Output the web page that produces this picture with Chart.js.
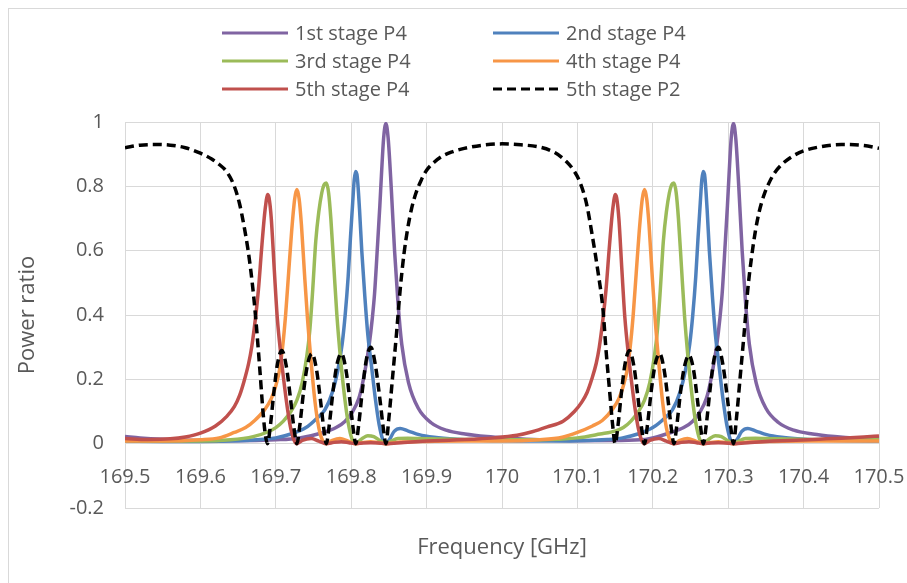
<!DOCTYPE html>
<html>
<head>
<meta charset="utf-8">
<title>Power ratio</title>
<script src="https://cdn.jsdelivr.net/npm/chart.js"></script>
<style>
  body { margin: 0; background: #fff; }
  #wrap { width: 907px; height: 583px; }
</style>
</head>
<body>
<div id="wrap"><canvas id="grafico" width="907" height="583"></canvas></div>
<script>
// frequency [GHz] / power ratio pairs, one pair of arrays per output port
const stage1Freq = [169.50, 169.52, 169.55, 169.60, 169.65, 169.70, 169.73, 169.762, 169.78, 169.792, 169.802, 169.810, 169.815, 169.820, 169.824, 169.828, 169.831, 169.835, 169.838, 169.840, 169.843, 169.846, 169.849, 169.853, 169.8575, 169.862, 169.867, 169.876, 169.889, 169.906, 169.926, 169.951, 169.98, 170.01, 170.05, 170.10, 170.15, 170.19, 170.223, 170.241, 170.253, 170.263, 170.271, 170.276, 170.281, 170.285, 170.289, 170.292, 170.296, 170.299, 170.301, 170.304, 170.307, 170.310, 170.314, 170.3185, 170.323, 170.328, 170.337, 170.350, 170.367, 170.387, 170.412, 170.441, 170.47, 170.50];
const stage1P4 = [0.022, 0.018, 0.014, 0.010, 0.009, 0.012, 0.017, 0.034, 0.05, 0.07, 0.10, 0.14, 0.187, 0.25, 0.31, 0.39, 0.467, 0.62, 0.74, 0.83, 0.95, 0.995, 0.95, 0.80, 0.60, 0.44, 0.31, 0.19, 0.11, 0.065, 0.042, 0.03, 0.022, 0.017, 0.012, 0.009, 0.01, 0.013, 0.034, 0.05, 0.07, 0.10, 0.14, 0.187, 0.25, 0.31, 0.39, 0.467, 0.62, 0.74, 0.83, 0.95, 0.995, 0.95, 0.80, 0.60, 0.44, 0.31, 0.19, 0.11, 0.065, 0.042, 0.03, 0.022, 0.017, 0.015];

const stage2Freq = [169.50, 169.55, 169.60, 169.65, 169.68, 169.70, 169.72, 169.74, 169.755, 169.765, 169.775, 169.782, 169.788, 169.792, 169.796, 169.799, 169.802, 169.804, 169.806, 169.808, 169.811, 169.814, 169.818, 169.822, 169.827, 169.832, 169.837, 169.842, 169.846, 169.851, 169.857, 169.865, 169.875, 169.89, 169.91, 169.94, 169.97, 170.00, 170.05, 170.10, 170.14, 170.16, 170.18, 170.20, 170.216, 170.226, 170.236, 170.243, 170.249, 170.253, 170.257, 170.260, 170.263, 170.265, 170.267, 170.269, 170.272, 170.275, 170.279, 170.283, 170.288, 170.293, 170.298, 170.303, 170.307, 170.312, 170.318, 170.326, 170.336, 170.351, 170.371, 170.401, 170.431, 170.46, 170.50];
const stage2P4 = [0.008, 0.007, 0.007, 0.009, 0.013, 0.018, 0.03, 0.05, 0.08, 0.105, 0.16, 0.225, 0.31, 0.40, 0.52, 0.64, 0.75, 0.82, 0.846, 0.83, 0.73, 0.60, 0.46, 0.34, 0.24, 0.14, 0.06, 0.012, 0.0, 0.014, 0.038, 0.047, 0.04, 0.028, 0.02, 0.014, 0.011, 0.009, 0.008, 0.009, 0.013, 0.018, 0.03, 0.05, 0.08, 0.105, 0.16, 0.225, 0.31, 0.40, 0.52, 0.64, 0.75, 0.82, 0.846, 0.83, 0.73, 0.60, 0.46, 0.34, 0.24, 0.14, 0.06, 0.012, 0.0, 0.014, 0.038, 0.047, 0.04, 0.028, 0.02, 0.014, 0.011, 0.009, 0.008];

const stage3Freq = [169.50, 169.55, 169.60, 169.64, 169.67, 169.69, 169.70, 169.71, 169.72, 169.728, 169.735, 169.741, 169.745, 169.749, 169.753, 169.757, 169.761, 169.764, 169.767, 169.770, 169.773, 169.777, 169.781, 169.786, 169.791, 169.796, 169.801, 169.806, 169.813, 169.822, 169.830, 169.838, 169.846, 169.853, 169.862, 169.875, 169.90, 169.95, 170.00, 170.05, 170.10, 170.13, 170.151, 170.161, 170.171, 170.181, 170.189, 170.196, 170.202, 170.206, 170.210, 170.214, 170.218, 170.222, 170.225, 170.228, 170.231, 170.234, 170.238, 170.242, 170.247, 170.252, 170.257, 170.262, 170.267, 170.274, 170.283, 170.291, 170.299, 170.307, 170.314, 170.323, 170.336, 170.361, 170.41, 170.46, 170.50];
const stage3P4 = [0.01, 0.008, 0.008, 0.012, 0.022, 0.037, 0.05, 0.07, 0.10, 0.135, 0.19, 0.27, 0.35, 0.48, 0.63, 0.72, 0.78, 0.805, 0.81, 0.78, 0.70, 0.55, 0.40, 0.26, 0.15, 0.065, 0.015, 0.0, 0.013, 0.025, 0.022, 0.01, 0.0, 0.008, 0.016, 0.017, 0.015, 0.013, 0.012, 0.012, 0.018, 0.03, 0.04, 0.05, 0.07, 0.10, 0.135, 0.19, 0.27, 0.35, 0.48, 0.63, 0.72, 0.78, 0.805, 0.81, 0.78, 0.70, 0.55, 0.40, 0.26, 0.15, 0.065, 0.015, 0.0, 0.013, 0.025, 0.022, 0.01, 0.0, 0.008, 0.016, 0.017, 0.015, 0.013, 0.012, 0.012];

const stage4Freq = [169.50, 169.55, 169.60, 169.625, 169.645, 169.66, 169.672, 169.685, 169.694, 169.700, 169.705, 169.709, 169.713, 169.717, 169.721, 169.725, 169.728, 169.731, 169.734, 169.738, 169.742, 169.747, 169.752, 169.757, 169.762, 169.767, 169.775, 169.785, 169.796, 169.806, 169.816, 169.826, 169.836, 169.846, 169.86, 169.90, 169.95, 170.00, 170.05, 170.08, 170.10, 170.12, 170.133, 170.146, 170.155, 170.161, 170.166, 170.170, 170.174, 170.178, 170.182, 170.186, 170.189, 170.192, 170.195, 170.199, 170.203, 170.208, 170.213, 170.218, 170.223, 170.228, 170.236, 170.246, 170.257, 170.267, 170.277, 170.287, 170.297, 170.307, 170.321, 170.361, 170.41, 170.46, 170.50];
const stage4P4 = [0.008, 0.008, 0.012, 0.018, 0.035, 0.05, 0.072, 0.105, 0.14, 0.18, 0.23, 0.30, 0.40, 0.53, 0.66, 0.76, 0.79, 0.76, 0.68, 0.53, 0.39, 0.25, 0.13, 0.05, 0.01, 0.0, 0.01, 0.016, 0.008, 0.0, 0.004, 0.006, 0.003, 0.0, 0.004, 0.007, 0.008, 0.008, 0.012, 0.02, 0.035, 0.055, 0.072, 0.105, 0.14, 0.18, 0.23, 0.30, 0.40, 0.53, 0.66, 0.76, 0.79, 0.76, 0.68, 0.53, 0.39, 0.25, 0.13, 0.05, 0.01, 0.0, 0.01, 0.016, 0.008, 0.0, 0.004, 0.006, 0.003, 0.0, 0.004, 0.007, 0.008, 0.008, 0.008];

const stage5Freq = [169.50, 169.53, 169.56, 169.58, 169.60, 169.62, 169.635, 169.645, 169.652, 169.658, 169.664, 169.668, 169.673, 169.677, 169.681, 169.685, 169.687, 169.689, 169.691, 169.694, 169.698, 169.702, 169.707, 169.712, 169.716, 169.720, 169.724, 169.728, 169.735, 169.747, 169.757, 169.767, 169.777, 169.787, 169.797, 169.806, 169.816, 169.826, 169.836, 169.846, 169.87, 169.90, 169.93, 169.96, 169.99, 170.02, 170.04, 170.06, 170.081, 170.096, 170.106, 170.113, 170.119, 170.125, 170.129, 170.134, 170.138, 170.142, 170.146, 170.148, 170.150, 170.152, 170.155, 170.159, 170.163, 170.168, 170.173, 170.177, 170.181, 170.185, 170.189, 170.196, 170.208, 170.218, 170.228, 170.238, 170.248, 170.258, 170.267, 170.277, 170.287, 170.297, 170.307, 170.33, 170.36, 170.39, 170.42, 170.45, 170.48, 170.50];
const stage5P4 = [0.016, 0.013, 0.015, 0.021, 0.033, 0.055, 0.085, 0.115, 0.15, 0.195, 0.25, 0.30, 0.39, 0.48, 0.60, 0.71, 0.75, 0.775, 0.765, 0.70, 0.54, 0.39, 0.27, 0.17, 0.10, 0.045, 0.012, 0.0, 0.01, 0.016, 0.008, 0.0, 0.004, 0.006, 0.003, 0.0, 0.002, 0.003, 0.002, 0.0, 0.004, 0.008, 0.011, 0.014, 0.018, 0.026, 0.037, 0.052, 0.07, 0.10, 0.13, 0.16, 0.2, 0.25, 0.30, 0.39, 0.48, 0.60, 0.71, 0.75, 0.775, 0.765, 0.70, 0.54, 0.39, 0.27, 0.17, 0.10, 0.045, 0.012, 0.0, 0.01, 0.016, 0.008, 0.0, 0.004, 0.006, 0.003, 0.0, 0.002, 0.003, 0.002, 0.0, 0.004, 0.008, 0.011, 0.014, 0.017, 0.021, 0.024];

const stage5P2Freq = [169.50, 169.52, 169.54, 169.56, 169.58, 169.60, 169.615, 169.625, 169.635, 169.645, 169.652, 169.658, 169.663, 169.667, 169.671, 169.675, 169.679, 169.683, 169.686, 169.689, 169.693, 169.697, 169.702, 169.708, 169.714, 169.719, 169.724, 169.728, 169.732, 169.737, 169.742, 169.748, 169.754, 169.759, 169.764, 169.767, 169.771, 169.776, 169.781, 169.787, 169.793, 169.798, 169.803, 169.806, 169.810, 169.815, 169.820, 169.826, 169.832, 169.838, 169.843, 169.846, 169.850, 169.855, 169.860, 169.865, 169.870, 169.875, 169.880, 169.886, 169.893, 169.90, 169.91, 169.92, 169.935, 169.95, 169.975, 170.00, 170.025, 170.05, 170.07, 170.085, 170.095, 170.103, 170.112, 170.120, 170.127, 170.134, 170.138, 170.143, 170.147, 170.150, 170.154, 170.158, 170.163, 170.169, 170.175, 170.180, 170.185, 170.189, 170.193, 170.198, 170.203, 170.209, 170.215, 170.220, 170.225, 170.228, 170.232, 170.237, 170.242, 170.248, 170.254, 170.259, 170.264, 170.267, 170.271, 170.276, 170.281, 170.287, 170.293, 170.299, 170.304, 170.307, 170.311, 170.316, 170.321, 170.326, 170.331, 170.336, 170.341, 170.347, 170.354, 170.361, 170.371, 170.385, 170.40, 170.42, 170.45, 170.48, 170.50];
const stage5P2 = [0.92, 0.928, 0.93, 0.928, 0.92, 0.903, 0.885, 0.868, 0.845, 0.80, 0.745, 0.675, 0.605, 0.535, 0.45, 0.345, 0.225, 0.10, 0.03, 0.0, 0.06, 0.15, 0.245, 0.29, 0.24, 0.15, 0.05, 0.0, 0.06, 0.165, 0.245, 0.28, 0.23, 0.14, 0.04, 0.0, 0.06, 0.165, 0.245, 0.28, 0.23, 0.14, 0.04, 0.0, 0.06, 0.17, 0.26, 0.30, 0.245, 0.14, 0.04, 0.0, 0.08, 0.21, 0.34, 0.48, 0.59, 0.67, 0.73, 0.78, 0.82, 0.85, 0.875, 0.893, 0.908, 0.918, 0.928, 0.932, 0.929, 0.922, 0.905, 0.878, 0.85, 0.815, 0.747, 0.643, 0.539, 0.415, 0.29, 0.156, 0.052, 0.0, 0.06, 0.15, 0.245, 0.29, 0.24, 0.15, 0.05, 0.0, 0.06, 0.165, 0.245, 0.28, 0.23, 0.14, 0.04, 0.0, 0.06, 0.165, 0.24, 0.275, 0.23, 0.14, 0.04, 0.0, 0.06, 0.17, 0.26, 0.30, 0.245, 0.14, 0.04, 0.0, 0.08, 0.21, 0.34, 0.48, 0.58, 0.66, 0.72, 0.77, 0.81, 0.84, 0.868, 0.893, 0.91, 0.922, 0.93, 0.927, 0.918];

const seriesNames = ["1st stage P4", "2nd stage P4", "3rd stage P4", "4th stage P4", "5th stage P4", "5th stage P2"];
const xTickLabels = ["169.5", "169.6", "169.7", "169.8", "169.9", "170", "170.1", "170.2", "170.3", "170.4", "170.5"];
const yTickLabels = ["-0.2", "0", "0.2", "0.4", "0.6", "0.8", "1"];

const textColor = "#595959";
const gridColor = "#d9d9d9";
const fontName = "'Open Sans', 'Liberation Sans', sans-serif";

function pontos(xs, ys) {
  return xs.map((x, i) => ({ x: x, y: ys[i] }));
}

function serie(label, xs, ys, color, order, dash) {
  return {
    label: label,
    data: pontos(xs, ys),
    borderColor: color,
    backgroundColor: color,
    borderWidth: 3.5,
    borderDash: dash || [],
    borderJoinStyle: "round",
    pointRadius: 0,
    fill: false,
    cubicInterpolationMode: "monotone",
    order: order,
  };
}

let datasets = [
  serie(seriesNames[0], stage1Freq, stage1P4, "#8064A2", 5),
  serie(seriesNames[1], stage2Freq, stage2P4, "#4F81BD", 4),
  serie(seriesNames[2], stage3Freq, stage3P4, "#9BBB59", 3),
  serie(seriesNames[3], stage4Freq, stage4P4, "#F79646", 2),
  serie(seriesNames[4], stage5Freq, stage5P4, "#C0504D", 1),
  serie(seriesNames[5], stage5P2Freq, stage5P2, "#000000", 0, [9, 5]),
];

// legend in two columns, three rows, plus the outer chart frame
const legendaPlugin = {
  id: "legenda2col",
  beforeDraw(chart) {
    let ctx = chart.ctx;
    ctx.save();
    ctx.strokeStyle = gridColor;
    ctx.lineWidth = 1;
    ctx.strokeRect(8.5, 8.5, 1400, 1400);
    ctx.restore();
  },
  afterDraw(chart) {
    let ctx = chart.ctx;
    let cols = [222, 493];
    let rows = [33, 61, 89];
    ctx.save();
    ctx.font = "20px " + fontName;
    ctx.textBaseline = "middle";
    ctx.textAlign = "left";
    datasets.forEach((ds, i) => {
      let x = cols[i % 2];
      let y = rows[Math.floor(i / 2)];
      ctx.strokeStyle = ds.borderColor;
      ctx.lineWidth = 3;
      ctx.setLineDash(ds.borderDash);
      ctx.beginPath();
      ctx.moveTo(x, y);
      ctx.lineTo(x + 66, y);
      ctx.stroke();
      ctx.setLineDash([]);
      ctx.fillStyle = textColor;
      ctx.fillText(ds.label, x + 73, y + 1);
    });
    ctx.restore();
  },
};

let grafico = new Chart(document.getElementById("grafico"), {
  type: "line",
  data: { datasets: datasets },
  plugins: [legendaPlugin],
  options: {
    responsive: false,
    animation: false,
    layout: { padding: { top: 122, right: 28, bottom: 75, left: 0 } },
    plugins: {
      legend: { display: false },
      tooltip: { enabled: false },
    },
    scales: {
      x: {
        type: "linear",
        position: { y: 0 },
        min: 169.5,
        max: 170.5,
        afterFit: (scale) => { scale.paddingLeft = 0; scale.paddingRight = 0; },
        grid: { color: gridColor, lineWidth: 1, drawTicks: false },
        border: { display: false },
        ticks: {
          stepSize: 0.1,
          autoSkip: false,
          maxRotation: 0,
          padding: 22,
          color: textColor,
          font: { family: fontName, size: 20 },
          callback: (v, i) => xTickLabels[i],
        },
        title: {
          display: true,
          text: "Frequency [GHz]",
          color: textColor,
          font: { family: fontName, size: 22 },
          padding: { top: 23, bottom: 0 },
        },
      },
      y: {
        type: "linear",
        min: -0.2,
        max: 1,
        afterFit: (scale) => { scale.width = 125; },
        grid: { color: gridColor, lineWidth: 1, drawTicks: false },
        border: { display: false },
        ticks: {
          stepSize: 0.2,
          padding: 21,
          color: textColor,
          font: { family: fontName, size: 20 },
          callback: (v, i) => yTickLabels[i],
        },
        title: {
          display: true,
          text: "Power ratio",
          color: textColor,
          font: { family: fontName, size: 22 },
          padding: { top: 15, bottom: 0 },
        },
      },
    },
  },
});
</script>
</body>
</html>
